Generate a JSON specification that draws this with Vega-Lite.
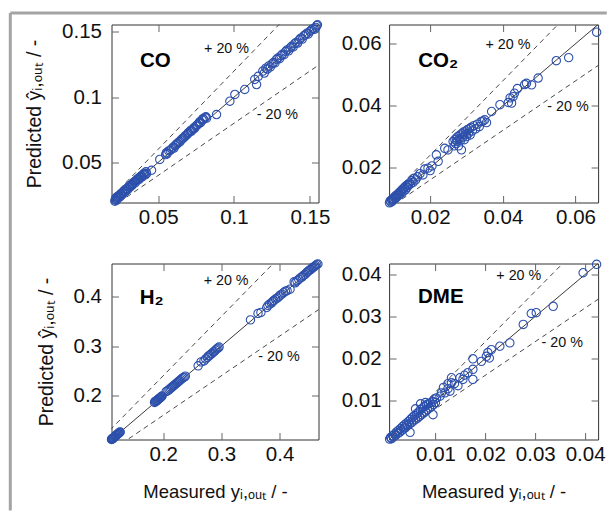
{
  "$schema": "https://vega.github.io/schema/vega-lite/v6.json",
  "background": "white",
  "padding": {"left": 7.5, "top": 10.5, "right": 0, "bottom": 0},
  "config": {
    "font": "Liberation Sans",
    "view": {"stroke": "#333", "strokeWidth": 1},
    "axis": {"domain": false, "grid": false, "tickSize": -7, "tickColor": "#666", "tickWidth": 1, "labelFontSize": 20.5, "labelColor": "#111", "labelFlush": false, "labelOverlap": false, "titleFontSize": 18.5, "titleFontWeight": "normal", "titleColor": "#111", "labelFont": "Liberation Sans", "titleFont": "Liberation Sans"}
  },
  "datasets": {
    "diag": [{"m": 0, "p": 0}, {"m": 1, "p": 1}],
    "bands": [{"g": "a", "m": 0, "p": 0}, {"g": "a", "m": 1, "p": 1.2}, {"g": "b", "m": 0, "p": 0}, {"g": "b", "m": 1, "p": 0.8}],
    "co": [
      {"m":0.0215,"p":0.0203},{"m":0.0218,"p":0.0215},{"m":0.0222,"p":0.0228},{"m":0.0225,"p":0.0210},{"m":0.0228,"p":0.0235},{"m":0.0232,"p":0.0222},{"m":0.0236,"p":0.0240},{"m":0.0240,"p":0.0230},{"m":0.0244,"p":0.0248},{"m":0.0248,"p":0.0238},{"m":0.0252,"p":0.0255},{"m":0.0256,"p":0.0262},{"m":0.0260,"p":0.0250},{"m":0.0265,"p":0.0268},{"m":0.0270,"p":0.0262},{"m":0.0275,"p":0.0280},{"m":0.0280,"p":0.0285},{"m":0.0285,"p":0.0278},{"m":0.0290,"p":0.0295},{"m":0.0295,"p":0.0300},{"m":0.0300,"p":0.0292},{"m":0.0305,"p":0.0312},{"m":0.0310,"p":0.0318},{"m":0.0315,"p":0.0310},{"m":0.0320,"p":0.0326},{"m":0.0325,"p":0.0332},{"m":0.0330,"p":0.0325},{"m":0.0335,"p":0.0340},{"m":0.0340,"p":0.0348},{"m":0.0345,"p":0.0352},{"m":0.0350,"p":0.0345},{"m":0.0355,"p":0.0360},{"m":0.0360,"p":0.0368},{"m":0.0365,"p":0.0372},{"m":0.0370,"p":0.0378},{"m":0.0375,"p":0.0370},{"m":0.0380,"p":0.0386},{"m":0.0385,"p":0.0392},{"m":0.0390,"p":0.0398},{"m":0.0395,"p":0.0390},{"m":0.0400,"p":0.0405},{"m":0.0405,"p":0.0412},{"m":0.0410,"p":0.0418},{"m":0.0415,"p":0.0405},{"m":0.0420,"p":0.0428},{"m":0.0424,"p":0.0415},
      {"m":0.0457,"p":0.0440},{"m":0.0511,"p":0.0523},
      {"m":0.0550,"p":0.0560},{"m":0.0555,"p":0.0575},{"m":0.0560,"p":0.0568},{"m":0.0570,"p":0.0588},{"m":0.0580,"p":0.0592},{"m":0.0590,"p":0.0605},{"m":0.0600,"p":0.0618},{"m":0.0605,"p":0.0610},{"m":0.0615,"p":0.0630},{"m":0.0620,"p":0.0640},{"m":0.0630,"p":0.0645},{"m":0.0635,"p":0.0655},{"m":0.0645,"p":0.0660},{"m":0.0650,"p":0.0672},{"m":0.0660,"p":0.0680},{"m":0.0665,"p":0.0688},{"m":0.0675,"p":0.0695},{"m":0.0680,"p":0.0705},{"m":0.0690,"p":0.0712},{"m":0.0695,"p":0.0720},{"m":0.0700,"p":0.0728},{"m":0.0710,"p":0.0735},{"m":0.0715,"p":0.0745},{"m":0.0720,"p":0.0740},{"m":0.0730,"p":0.0755},{"m":0.0735,"p":0.0765},{"m":0.0740,"p":0.0760},{"m":0.0750,"p":0.0778},{"m":0.0755,"p":0.0785},{"m":0.0760,"p":0.0790},{"m":0.0770,"p":0.0800},{"m":0.0775,"p":0.0812},{"m":0.0780,"p":0.0805},{"m":0.0790,"p":0.0825},{"m":0.0795,"p":0.0835},{"m":0.0800,"p":0.0830},{"m":0.0810,"p":0.0845},{"m":0.0815,"p":0.0850},{"m":0.0820,"p":0.0840},
      {"m":0.0885,"p":0.0867},{"m":0.0973,"p":0.0969},{"m":0.1006,"p":0.1021},{"m":0.1071,"p":0.1059},{"m":0.1137,"p":0.1136},{"m":0.1149,"p":0.1097},{"m":0.1160,"p":0.1160},
      {"m":0.1190,"p":0.1200},{"m":0.1200,"p":0.1185},{"m":0.1210,"p":0.1222},{"m":0.1220,"p":0.1215},{"m":0.1230,"p":0.1240},{"m":0.1240,"p":0.1232},{"m":0.1250,"p":0.1255},{"m":0.1260,"p":0.1265},{"m":0.1270,"p":0.1262},{"m":0.1280,"p":0.1290},{"m":0.1290,"p":0.1300},{"m":0.1300,"p":0.1295},{"m":0.1310,"p":0.1318},{"m":0.1320,"p":0.1330},{"m":0.1330,"p":0.1325},{"m":0.1340,"p":0.1350},{"m":0.1350,"p":0.1362},{"m":0.1360,"p":0.1355},{"m":0.1370,"p":0.1378},{"m":0.1380,"p":0.1390},{"m":0.1390,"p":0.1385},{"m":0.1400,"p":0.1410},{"m":0.1410,"p":0.1420},{"m":0.1420,"p":0.1415},{"m":0.1430,"p":0.1440},{"m":0.1440,"p":0.1452},{"m":0.1450,"p":0.1445},{"m":0.1460,"p":0.1470},{"m":0.1470,"p":0.1478},{"m":0.1480,"p":0.1490},{"m":0.1490,"p":0.1485},{"m":0.1500,"p":0.1505},{"m":0.1510,"p":0.1515},{"m":0.1520,"p":0.1525},{"m":0.1530,"p":0.1520},{"m":0.1540,"p":0.1535},{"m":0.1545,"p":0.1548},{"m":0.1550,"p":0.1555}
    ],
    "co2": [
      {"m":0.0088,"p":0.0086},{"m":0.0090,"p":0.0092},{"m":0.0092,"p":0.0088},{"m":0.0094,"p":0.0096},{"m":0.0096,"p":0.0091},{"m":0.0098,"p":0.0100},{"m":0.0100,"p":0.0097},{"m":0.0102,"p":0.0105},{"m":0.0104,"p":0.0100},{"m":0.0106,"p":0.0110},{"m":0.0108,"p":0.0104},{"m":0.0110,"p":0.0113},{"m":0.0112,"p":0.0109},{"m":0.0114,"p":0.0118},{"m":0.0116,"p":0.0112},{"m":0.0118,"p":0.0122},{"m":0.0120,"p":0.0125},{"m":0.0122,"p":0.0118},{"m":0.0124,"p":0.0130},{"m":0.0126,"p":0.0124},{"m":0.0128,"p":0.0133},{"m":0.0130,"p":0.0137},{"m":0.0132,"p":0.0128},{"m":0.0134,"p":0.0140},{"m":0.0136,"p":0.0135},{"m":0.0138,"p":0.0145},{"m":0.0140,"p":0.0142},{"m":0.0143,"p":0.0150},{"m":0.0146,"p":0.0147},{"m":0.0150,"p":0.0158},{"m":0.0153,"p":0.0152},{"m":0.0156,"p":0.0165},{"m":0.0160,"p":0.0160},
      {"m":0.0165,"p":0.0170},{"m":0.0172,"p":0.0180},{"m":0.0180,"p":0.0176},{"m":0.0185,"p":0.0195},{"m":0.0194,"p":0.0198},{"m":0.0200,"p":0.0190},{"m":0.0205,"p":0.0205},{"m":0.0217,"p":0.0241},{"m":0.0222,"p":0.0220},{"m":0.0240,"p":0.0262},{"m":0.0249,"p":0.0257},
      {"m":0.0263,"p":0.0284},{"m":0.0266,"p":0.0270},{"m":0.0268,"p":0.0290},{"m":0.0270,"p":0.0278},{"m":0.0272,"p":0.0295},{"m":0.0274,"p":0.0285},{"m":0.0276,"p":0.0300},{"m":0.0278,"p":0.0270},{"m":0.0280,"p":0.0292},{"m":0.0282,"p":0.0305},{"m":0.0284,"p":0.0288},{"m":0.0286,"p":0.0257},{"m":0.0288,"p":0.0310},{"m":0.0290,"p":0.0298},{"m":0.0292,"p":0.0315},{"m":0.0294,"p":0.0290},{"m":0.0296,"p":0.0306},{"m":0.0298,"p":0.0318},{"m":0.0300,"p":0.0300},{"m":0.0302,"p":0.0322},{"m":0.0305,"p":0.0310},{"m":0.0308,"p":0.0326},{"m":0.0310,"p":0.0305},{"m":0.0313,"p":0.0330},{"m":0.0316,"p":0.0318},{"m":0.0320,"p":0.0335},{"m":0.0325,"p":0.0325},{"m":0.0330,"p":0.0340},{"m":0.0335,"p":0.0332},{"m":0.0340,"p":0.0348},{"m":0.0345,"p":0.0350},{"m":0.0350,"p":0.0354},{"m":0.0355,"p":0.0345},
      {"m":0.0369,"p":0.0381},{"m":0.0392,"p":0.0403},{"m":0.0415,"p":0.0410},{"m":0.0420,"p":0.0425},{"m":0.0424,"p":0.0408},{"m":0.0428,"p":0.0429},{"m":0.0432,"p":0.0440},{"m":0.0440,"p":0.0455},{"m":0.0460,"p":0.0468},{"m":0.0465,"p":0.0472},{"m":0.0479,"p":0.0467},{"m":0.0497,"p":0.0489},{"m":0.0547,"p":0.0545},{"m":0.0581,"p":0.0555},{"m":0.0658,"p":0.0637}
    ],
    "h2": [
      {"m":0.1110,"p":0.1112},{"m":0.1115,"p":0.1120},{"m":0.1120,"p":0.1115},{"m":0.1125,"p":0.1130},{"m":0.1130,"p":0.1125},{"m":0.1135,"p":0.1140},{"m":0.1140,"p":0.1138},{"m":0.1150,"p":0.1150},{"m":0.1160,"p":0.1165},{"m":0.1170,"p":0.1168},{"m":0.1180,"p":0.1185},{"m":0.1190,"p":0.1192},{"m":0.1200,"p":0.1205},{"m":0.1210,"p":0.1212},{"m":0.1220,"p":0.1225},{"m":0.1230,"p":0.1235},{"m":0.1240,"p":0.1242},{"m":0.1250,"p":0.1255},{"m":0.1260,"p":0.1262},
      {"m":0.1850,"p":0.1860},{"m":0.1860,"p":0.1880},{"m":0.1870,"p":0.1875},{"m":0.1880,"p":0.1890},{"m":0.1890,"p":0.1900},{"m":0.1900,"p":0.1905},{"m":0.1910,"p":0.1920},{"m":0.1920,"p":0.1925},{"m":0.1930,"p":0.1940},{"m":0.1940,"p":0.1945},{"m":0.1950,"p":0.1960},{"m":0.1960,"p":0.1965},{"m":0.1970,"p":0.1980},{"m":0.1980,"p":0.1990},{"m":0.2050,"p":0.2080},{"m":0.2080,"p":0.2100},{"m":0.2100,"p":0.2120},{"m":0.2120,"p":0.2140},{"m":0.2140,"p":0.2160},{"m":0.2160,"p":0.2180},{"m":0.2180,"p":0.2200},{"m":0.2200,"p":0.2220},{"m":0.2220,"p":0.2240},{"m":0.2240,"p":0.2260},{"m":0.2260,"p":0.2280},{"m":0.2280,"p":0.2300},{"m":0.2300,"p":0.2320},{"m":0.2320,"p":0.2340},{"m":0.2340,"p":0.2360},{"m":0.2360,"p":0.2370},{"m":0.2380,"p":0.2390},
      {"m":0.2600,"p":0.2600},{"m":0.2650,"p":0.2680},{"m":0.2700,"p":0.2700},{"m":0.2730,"p":0.2740},{"m":0.2760,"p":0.2770},{"m":0.2780,"p":0.2800},{"m":0.2800,"p":0.2810},{"m":0.2820,"p":0.2840},{"m":0.2840,"p":0.2850},{"m":0.2860,"p":0.2880},{"m":0.2880,"p":0.2890},{"m":0.2900,"p":0.2920},{"m":0.2920,"p":0.2940},{"m":0.2940,"p":0.2960},{"m":0.2960,"p":0.2980},
      {"m":0.3500,"p":0.3530},{"m":0.3630,"p":0.3660},{"m":0.3680,"p":0.3680},
      {"m":0.3780,"p":0.3780},{"m":0.3800,"p":0.3820},{"m":0.3830,"p":0.3850},{"m":0.3860,"p":0.3870},{"m":0.3880,"p":0.3900},{"m":0.3900,"p":0.3920},{"m":0.3930,"p":0.3950},{"m":0.3960,"p":0.3970},{"m":0.3990,"p":0.4000},{"m":0.4010,"p":0.4030},{"m":0.4040,"p":0.4050},{"m":0.4070,"p":0.4080},{"m":0.4100,"p":0.4110},{"m":0.4130,"p":0.4120},{"m":0.4180,"p":0.4150},{"m":0.4250,"p":0.4300},{"m":0.4270,"p":0.4280},
      {"m":0.4300,"p":0.4320},{"m":0.4330,"p":0.4350},{"m":0.4360,"p":0.4380},{"m":0.4390,"p":0.4400},{"m":0.4410,"p":0.4430},{"m":0.4440,"p":0.4450},{"m":0.4460,"p":0.4480},{"m":0.4480,"p":0.4500},{"m":0.4500,"p":0.4520},{"m":0.4520,"p":0.4540},{"m":0.4540,"p":0.4550},{"m":0.4560,"p":0.4580},{"m":0.4580,"p":0.4590},{"m":0.4600,"p":0.4610},{"m":0.4620,"p":0.4630},{"m":0.4640,"p":0.4650},{"m":0.4660,"p":0.4660}
    ],
    "dme": [
      {"m":0.0008,"p":0.0008},{"m":0.0010,"p":0.0012},{"m":0.0012,"p":0.0009},{"m":0.0014,"p":0.0016},{"m":0.0016,"p":0.0013},{"m":0.0018,"p":0.0020},{"m":0.0020,"p":0.0017},{"m":0.0022,"p":0.0025},{"m":0.0024,"p":0.0021},{"m":0.0026,"p":0.0029},{"m":0.0028,"p":0.0024},{"m":0.0030,"p":0.0033},{"m":0.0032,"p":0.0028},{"m":0.0034,"p":0.0038},{"m":0.0036,"p":0.0032},{"m":0.0038,"p":0.0042},{"m":0.0040,"p":0.0035},{"m":0.0042,"p":0.0046},{"m":0.0044,"p":0.0040},{"m":0.0046,"p":0.0050},{"m":0.0048,"p":0.0044},{"m":0.0049,"p":0.0024},{"m":0.0050,"p":0.0055},{"m":0.0052,"p":0.0047},{"m":0.0054,"p":0.0060},{"m":0.0056,"p":0.0051},{"m":0.0058,"p":0.0064},{"m":0.0060,"p":0.0055},{"m":0.0060,"p":0.0080},{"m":0.0062,"p":0.0068},{"m":0.0064,"p":0.0058},{"m":0.0066,"p":0.0072},{"m":0.0068,"p":0.0062},{"m":0.0070,"p":0.0078},{"m":0.0070,"p":0.0092},{"m":0.0072,"p":0.0066},{"m":0.0074,"p":0.0082},{"m":0.0076,"p":0.0070},{"m":0.0078,"p":0.0086},{"m":0.0080,"p":0.0074},{"m":0.0080,"p":0.0095},{"m":0.0082,"p":0.0090},{"m":0.0084,"p":0.0078},{"m":0.0086,"p":0.0092},{"m":0.0088,"p":0.0082},{"m":0.0090,"p":0.0094},{"m":0.0092,"p":0.0086},{"m":0.0094,"p":0.0098},{"m":0.0095,"p":0.0066},{"m":0.0096,"p":0.0090},{"m":0.0098,"p":0.0103},{"m":0.0100,"p":0.0095},
      {"m":0.0102,"p":0.0106},{"m":0.0109,"p":0.0110},{"m":0.0112,"p":0.0118},{"m":0.0116,"p":0.0131},{"m":0.0119,"p":0.0118},{"m":0.0125,"p":0.0128},{"m":0.0125,"p":0.0140},{"m":0.0129,"p":0.0122},{"m":0.0132,"p":0.0154},{"m":0.0132,"p":0.0142},{"m":0.0138,"p":0.0140},{"m":0.0145,"p":0.0135},{"m":0.0149,"p":0.0154},{"m":0.0155,"p":0.0150},{"m":0.0158,"p":0.0160},{"m":0.0165,"p":0.0166},{"m":0.0175,"p":0.0199},{"m":0.0175,"p":0.0174},{"m":0.0175,"p":0.0150},{"m":0.0192,"p":0.0193},{"m":0.0202,"p":0.0205},{"m":0.0205,"p":0.0214},{"m":0.0208,"p":0.0201},{"m":0.0212,"p":0.0221},{"m":0.0229,"p":0.0229},{"m":0.0249,"p":0.0237},{"m":0.0276,"p":0.0281},{"m":0.0292,"p":0.0307},{"m":0.0302,"p":0.0309},{"m":0.0336,"p":0.0324},{"m":0.0396,"p":0.0404},{"m":0.0423,"p":0.0424}
    ]
  },
  "columns": 2,
  "bounds": "flush",
  "spacing": {"row": 61, "column": 70.6},
  "concat": [
    {
      "width": 207, "height": 178,
      "resolve": {"axis": {"x": "independent", "y": "independent"}},
      "layer": [
        {"data": {"name": "diag"}, "mark": {"type": "line", "clip": true, "color": "#222", "strokeWidth": 0.9},
         "encoding": {"x": {"field": "m", "type": "quantitative", "scale": {"domain": [0.0193, 0.1557], "nice": false, "zero": false}, "axis": {"orient": "top", "values": [0.05, 0.1, 0.15], "labels": false, "title": null}},
                      "y": {"field": "p", "type": "quantitative", "scale": {"domain": [0.0193, 0.1557], "nice": false, "zero": false}, "axis": {"orient": "right", "values": [0.05, 0.1, 0.15], "labels": false, "title": null}}}},
        {"data": {"name": "bands"}, "mark": {"type": "line", "clip": true, "color": "#333", "strokeWidth": 0.9, "strokeDash": [5, 4]},
         "encoding": {"x": {"field": "m", "type": "quantitative", "axis": null}, "y": {"field": "p", "type": "quantitative", "axis": null}, "detail": {"field": "g"}}},
        {"data": {"name": "co"}, "mark": {"type": "point", "shape": "circle", "filled": false, "size": 70, "strokeWidth": 1.1, "color": "#2d50ac", "opacity": 1},
         "encoding": {"x": {"field": "m", "type": "quantitative", "axis": {"orient": "bottom", "values": [0.05, 0.1, 0.15], "format": "~g", "labelPadding": 12, "title": null}},
                      "y": {"field": "p", "type": "quantitative", "axis": {"orient": "left", "values": [0.05, 0.1, 0.15], "format": "~g", "labelPadding": 17, "title": "Predicted ŷᵢ,ₒᵤₜ / -", "titleFontSize": 19.5, "titlePadding": 17}}}},
        {"data": {"values": [{}]}, "mark": {"type": "text", "text": "CO", "fontSize": 20.5, "fontWeight": "bold", "align": "left", "baseline": "alphabetic", "color": "#000"},
         "encoding": {"x": {"datum": 0.0380, "type": "quantitative", "axis": null}, "y": {"datum": 0.1233, "type": "quantitative", "axis": null}}},
        {"data": {"values": [{}]}, "mark": {"type": "text", "text": "+ 20 %", "fontSize": 14.3, "align": "center", "baseline": "alphabetic", "color": "#111"},
         "encoding": {"x": {"datum": 0.0951, "type": "quantitative", "axis": null}, "y": {"datum": 0.1335, "type": "quantitative", "axis": null}}},
        {"data": {"values": [{}]}, "mark": {"type": "text", "text": "- 20 %", "fontSize": 14.3, "align": "center", "baseline": "alphabetic", "color": "#111"},
         "encoding": {"x": {"datum": 0.1286, "type": "quantitative", "axis": null}, "y": {"datum": 0.0834, "type": "quantitative", "axis": null}}},
        {"data": {"values": [{}]}, "mark": {"type": "rule", "color": "#a4a4a4", "strokeWidth": 3},
         "encoding": {"x": {"datum": -0.04738, "type": "quantitative", "axis": null}, "x2": {"datum": 0.34567}, "y": {"datum": 0.16451, "type": "quantitative", "axis": null}}},
        {"data": {"values": [{}]}, "mark": {"type": "rule", "color": "#a4a4a4", "strokeWidth": 3},
         "encoding": {"x": {"datum": -0.04738, "type": "quantitative", "axis": null}, "y": {"datum": 0.16451, "type": "quantitative", "axis": null}, "y2": {"datum": -0.21671}}}
      ]
    },
    {
      "width": 209, "height": 178,
      "resolve": {"axis": {"x": "independent", "y": "independent"}},
      "layer": [
        {"data": {"name": "diag"}, "mark": {"type": "line", "clip": true, "color": "#222", "strokeWidth": 0.9},
         "encoding": {"x": {"field": "m", "type": "quantitative", "scale": {"domain": [0.0087, 0.0662], "nice": false, "zero": false}, "axis": {"orient": "top", "values": [0.02, 0.04, 0.06], "labels": false, "title": null}},
                      "y": {"field": "p", "type": "quantitative", "scale": {"domain": [0.0087, 0.0662], "nice": false, "zero": false}, "axis": {"orient": "right", "values": [0.02, 0.04, 0.06], "labels": false, "title": null}}}},
        {"data": {"name": "bands"}, "mark": {"type": "line", "clip": true, "color": "#333", "strokeWidth": 0.9, "strokeDash": [5, 4]},
         "encoding": {"x": {"field": "m", "type": "quantitative", "axis": null}, "y": {"field": "p", "type": "quantitative", "axis": null}, "detail": {"field": "g"}}},
        {"data": {"name": "co2"}, "mark": {"type": "point", "shape": "circle", "filled": false, "size": 70, "strokeWidth": 1.1, "color": "#2d50ac", "opacity": 1},
         "encoding": {"x": {"field": "m", "type": "quantitative", "axis": {"orient": "bottom", "values": [0.02, 0.04, 0.06], "format": "~g", "labelPadding": 12, "title": null}},
                      "y": {"field": "p", "type": "quantitative", "axis": {"orient": "left", "values": [0.02, 0.04, 0.06], "format": "~g", "labelPadding": 15, "title": null}}}},
        {"data": {"values": [{}]}, "mark": {"type": "text", "text": "CO₂", "fontSize": 20.5, "fontWeight": "bold", "align": "left", "baseline": "alphabetic", "color": "#000"},
         "encoding": {"x": {"datum": 0.0167, "type": "quantitative", "axis": null}, "y": {"datum": 0.0526, "type": "quantitative", "axis": null}}},
        {"data": {"values": [{}]}, "mark": {"type": "text", "text": "+ 20 %", "fontSize": 14.3, "align": "center", "baseline": "alphabetic", "color": "#111"},
         "encoding": {"x": {"datum": 0.0414, "type": "quantitative", "axis": null}, "y": {"datum": 0.0584, "type": "quantitative", "axis": null}}},
        {"data": {"values": [{}]}, "mark": {"type": "text", "text": "- 20 %", "fontSize": 14.3, "align": "center", "baseline": "alphabetic", "color": "#111"},
         "encoding": {"x": {"datum": 0.0579, "type": "quantitative", "axis": null}, "y": {"datum": 0.0381, "type": "quantitative", "axis": null}}}
      ]
    },
    {
      "width": 207, "height": 176,
      "resolve": {"axis": {"x": "independent", "y": "independent"}},
      "layer": [
        {"data": {"name": "diag"}, "mark": {"type": "line", "clip": true, "color": "#222", "strokeWidth": 0.9},
         "encoding": {"x": {"field": "m", "type": "quantitative", "scale": {"domain": [0.111, 0.467], "nice": false, "zero": false}, "axis": {"orient": "top", "values": [0.2, 0.3, 0.4], "labels": false, "title": null}},
                      "y": {"field": "p", "type": "quantitative", "scale": {"domain": [0.111, 0.467], "nice": false, "zero": false}, "axis": {"orient": "right", "values": [0.2, 0.3, 0.4], "labels": false, "title": null}}}},
        {"data": {"name": "bands"}, "mark": {"type": "line", "clip": true, "color": "#333", "strokeWidth": 0.9, "strokeDash": [5, 4]},
         "encoding": {"x": {"field": "m", "type": "quantitative", "axis": null}, "y": {"field": "p", "type": "quantitative", "axis": null}, "detail": {"field": "g"}}},
        {"data": {"name": "h2"}, "mark": {"type": "point", "shape": "circle", "filled": false, "size": 70, "strokeWidth": 1.1, "color": "#2d50ac", "opacity": 1},
         "encoding": {"x": {"field": "m", "type": "quantitative", "axis": {"orient": "bottom", "values": [0.2, 0.3, 0.4], "format": "~g", "labelPadding": 12, "title": "Measured yᵢ,ₒᵤₜ / -", "titlePadding": 17}},
                      "y": {"field": "p", "type": "quantitative", "axis": {"orient": "left", "values": [0.2, 0.3, 0.4], "format": "~g", "labelPadding": 17, "title": "Predicted ŷᵢ,ₒᵤₜ / -", "titleFontSize": 19.5, "titlePadding": 17}}}},
        {"data": {"values": [{}]}, "mark": {"type": "text", "text": "H₂", "fontSize": 20.5, "fontWeight": "bold", "align": "left", "baseline": "alphabetic", "color": "#000"},
         "encoding": {"x": {"datum": 0.1597, "type": "quantitative", "axis": null}, "y": {"datum": 0.3841, "type": "quantitative", "axis": null}}},
        {"data": {"values": [{}]}, "mark": {"type": "text", "text": "+ 20 %", "fontSize": 14.3, "align": "center", "baseline": "alphabetic", "color": "#111"},
         "encoding": {"x": {"datum": 0.3081, "type": "quantitative", "axis": null}, "y": {"datum": 0.4245, "type": "quantitative", "axis": null}}},
        {"data": {"values": [{}]}, "mark": {"type": "text", "text": "- 20 %", "fontSize": 14.3, "align": "center", "baseline": "alphabetic", "color": "#111"},
         "encoding": {"x": {"datum": 0.399, "type": "quantitative", "axis": null}, "y": {"datum": 0.2694, "type": "quantitative", "axis": null}}}
      ]
    },
    {
      "width": 209, "height": 176,
      "resolve": {"axis": {"x": "independent", "y": "independent"}},
      "layer": [
        {"data": {"name": "diag"}, "mark": {"type": "line", "clip": true, "color": "#222", "strokeWidth": 0.9},
         "encoding": {"x": {"field": "m", "type": "quantitative", "scale": {"domain": [0.0007, 0.0426], "nice": false, "zero": false}, "axis": {"orient": "top", "values": [0.01, 0.02, 0.03, 0.04], "labels": false, "title": null}},
                      "y": {"field": "p", "type": "quantitative", "scale": {"domain": [0.0007, 0.0426], "nice": false, "zero": false}, "axis": {"orient": "right", "values": [0.01, 0.02, 0.03, 0.04], "labels": false, "title": null}}}},
        {"data": {"name": "bands"}, "mark": {"type": "line", "clip": true, "color": "#333", "strokeWidth": 0.9, "strokeDash": [5, 4]},
         "encoding": {"x": {"field": "m", "type": "quantitative", "axis": null}, "y": {"field": "p", "type": "quantitative", "axis": null}, "detail": {"field": "g"}}},
        {"data": {"name": "dme"}, "mark": {"type": "point", "shape": "circle", "filled": false, "size": 70, "strokeWidth": 1.1, "color": "#2d50ac", "opacity": 1},
         "encoding": {"x": {"field": "m", "type": "quantitative", "axis": {"orient": "bottom", "values": [0.01, 0.02, 0.03, 0.04], "format": "~g", "labelPadding": 12, "title": "Measured yᵢ,ₒᵤₜ / -", "titlePadding": 17}},
                      "y": {"field": "p", "type": "quantitative", "axis": {"orient": "left", "values": [0.01, 0.02, 0.03, 0.04], "format": "~g", "labelPadding": 15, "title": null}}}},
        {"data": {"values": [{}]}, "mark": {"type": "text", "text": "DME", "fontSize": 20.5, "fontWeight": "bold", "align": "left", "baseline": "alphabetic", "color": "#000"},
         "encoding": {"x": {"datum": 0.0065, "type": "quantitative", "axis": null}, "y": {"datum": 0.0331, "type": "quantitative", "axis": null}}},
        {"data": {"values": [{}]}, "mark": {"type": "text", "text": "+ 20 %", "fontSize": 14.3, "align": "center", "baseline": "alphabetic", "color": "#111"},
         "encoding": {"x": {"datum": 0.0267, "type": "quantitative", "axis": null}, "y": {"datum": 0.0386, "type": "quantitative", "axis": null}}},
        {"data": {"values": [{}]}, "mark": {"type": "text", "text": "- 20 %", "fontSize": 14.3, "align": "center", "baseline": "alphabetic", "color": "#111"},
         "encoding": {"x": {"datum": 0.0354, "type": "quantitative", "axis": null}, "y": {"datum": 0.0228, "type": "quantitative", "axis": null}}}
      ]
    }
  ]
}
